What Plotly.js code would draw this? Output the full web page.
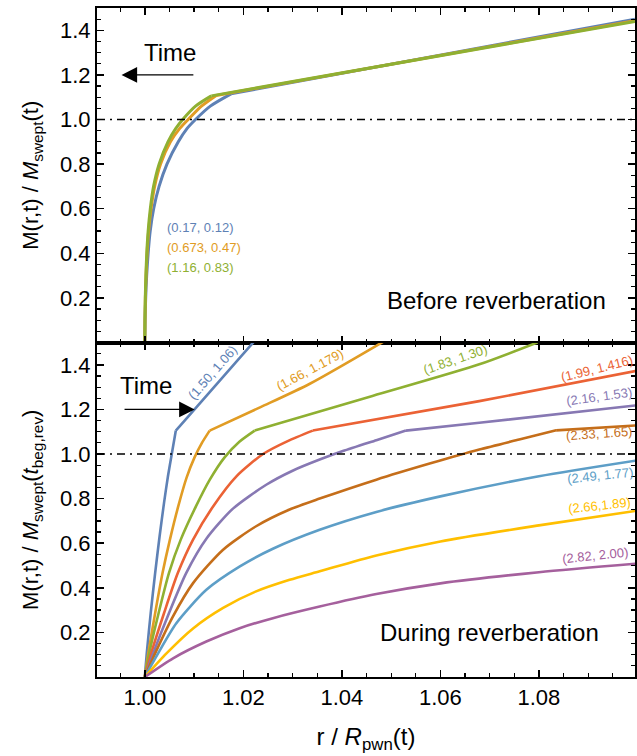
<!DOCTYPE html>
<html><head><meta charset="utf-8">
<script src="https://cdn.plot.ly/plotly-3.0.1.min.js"></script>
<style>html,body{margin:0;padding:0;background:#fff}</style>
</head><body><div id="chart" style="width:637px;height:756px"></div>
<script>
// ---------- data: top panel (before reverberation) ----------
const topBlueX   = [1.0, 1.00006, 1.00018, 1.00038, 1.00068, 1.0011, 1.0018, 1.0029, 1.0045, 1.0068, 1.0086, 1.0103, 1.0133, 1.0175, 1.0995];
const topBlueY   = [0, 0.1, 0.2, 0.3, 0.4, 0.5, 0.6, 0.7, 0.8, 0.9, 0.96, 1.0, 1.06, 1.115, 1.45];
const topOrangeX = [1.0, 1.00004, 1.00012, 1.00026, 1.00046, 1.00078, 1.00127, 1.002, 1.0032, 1.0052, 1.0071, 1.0088, 1.0115, 1.0145, 1.0995];
const topOrangeY = [0, 0.1, 0.2, 0.3, 0.4, 0.5, 0.6, 0.7, 0.8, 0.9, 0.96, 1.0, 1.06, 1.108, 1.443];
const topGreenX  = [1.0, 1.00003, 1.0001, 1.00022, 1.0004, 1.00068, 1.00112, 1.00178, 1.0029, 1.0047, 1.0063, 1.0077, 1.0103, 1.0135, 1.0995];
const topGreenY  = [0, 0.1, 0.2, 0.3, 0.4, 0.5, 0.6, 0.7, 0.8, 0.9, 0.96, 1.0, 1.06, 1.106, 1.44];
const topLabels  = ['(0.17, 0.12)', '(0.673, 0.47)', '(1.16, 0.83)'];

// ---------- data: bottom panel (during reverberation) ----------
const b1X = [1.0, 1.0004, 1.0012, 1.0021, 1.003, 1.0039, 1.0047, 1.0054, 1.0063, 1.0101, 1.0226];
const b1Y = [0, 0.106, 0.286, 0.466, 0.63, 0.78, 0.90, 0.99, 1.105, 1.2, 1.515];
const b2X = [1.0, 1.0007, 1.0021, 1.0036, 1.0051, 1.0068, 1.0085, 1.0101, 1.0116, 1.01317, 1.0235, 1.0335, 1.0493];
const b2Y = [0, 0.106, 0.286, 0.466, 0.616, 0.766, 0.895, 0.985, 1.05, 1.105, 1.21, 1.315, 1.515];
const b3X = [1.0, 1.0009, 1.0028, 1.0049, 1.0073, 1.0104, 1.0132, 1.0162, 1.0192, 1.0223, 1.0462, 1.0679, 1.0814];
const b3Y = [0, 0.106, 0.286, 0.466, 0.616, 0.766, 0.885, 0.985, 1.055, 1.105, 1.26, 1.402, 1.515];
const b4X = [1.0, 1.0013, 1.0039, 1.0067, 1.0098, 1.0139, 1.0186, 1.0240, 1.029, 1.0341, 1.0679, 1.0996];
const b4Y = [0, 0.106, 0.286, 0.466, 0.616, 0.766, 0.900, 1.0, 1.058, 1.105, 1.237, 1.372];
const b5X = [1.0, 1.0017, 1.0049, 1.0084, 1.0125, 1.0179, 1.02465, 1.0300, 1.0355, 1.0402, 1.047, 1.053, 1.0679, 1.0996];
const b5Y = [0, 0.106, 0.286, 0.466, 0.62, 0.755, 0.862, 0.925, 0.975, 1.013, 1.062, 1.105, 1.14, 1.218];
const b6X = [1.0, 1.0021, 1.0057, 1.0098, 1.0159, 1.0226, 1.0294, 1.0355, 1.047, 1.058, 1.0679, 1.076, 1.0835, 1.0996];
const b6Y = [0, 0.106, 0.271, 0.421, 0.571, 0.676, 0.751, 0.80, 0.885, 0.958, 1.02, 1.065, 1.106, 1.128];
const b7X = [1.0, 1.0027, 1.0064, 1.0125, 1.0193, 1.026, 1.0355, 1.047, 1.06, 1.08, 1.0996];
const b7Y = [0, 0.106, 0.241, 0.391, 0.496, 0.575, 0.66, 0.74, 0.81, 0.90, 0.97];
const b8X = [1.0, 1.0044, 1.0098, 1.0159, 1.0226, 1.0294, 1.0355, 1.047, 1.06, 1.08, 1.0996];
const b8Y = [0, 0.106, 0.218, 0.31, 0.384, 0.436, 0.474, 0.545, 0.608, 0.68, 0.745];
const b9X = [1.0, 1.00574, 1.01249, 1.01925, 1.026, 1.0355, 1.047, 1.06, 1.08, 1.0996];
const b9Y = [0, 0.084, 0.159, 0.219, 0.264, 0.316, 0.372, 0.42, 0.47, 0.508];
const bottomLabels = ['(1.50, 1.06)', '(1.66, 1.179)', '(1.83, 1.30)', '(1.99, 1.416)', '(2.16, 1.53)',
                      '(2.33, 1.65)', '(2.49, 1.77)', '(2.66,1.89)', '(2.82, 2.00)'];

// ---------- tick labels ----------
const yTickVals = [0.2, 0.4, 0.6, 0.8, 1.0, 1.2, 1.4];
const yTickText = ['0.2', '0.4', '0.6', '0.8', '1.0', '1.2', '1.4'];

// ---------- styling ----------
const COLORS = ['#5E81B5', '#E19C24', '#8FB032', '#EB6235', '#8778B3', '#C56E1A', '#5D9EC7', '#FFBF00', '#A5609D'];
const FONT = 'Liberation Sans, Arial, sans-serif';
const XR = [0.9903, 1.0995];

const traces = [];
function addPiece(x, y, color, xa, ya, w) {
  traces.push({x: x, y: y, xaxis: xa, yaxis: ya, type: 'scatter', mode: 'lines',
    line: {color: color, width: w, shape: 'spline', smoothing: 0.7}, hoverinfo: 'skip', showlegend: false});
}
// split each curve at its kink (shell edge, M ~ 1.1) so the kink stays sharp while the rest is smooth
function addCurve(x, y, color, xa, ya, w) {
  const k = y.findIndex(v => v >= 1.1);
  if (k > 0 && k < y.length - 1) {
    addPiece(x.slice(0, k + 1), y.slice(0, k + 1), color, xa, ya, w);
    addPiece(x.slice(k), y.slice(k), color, xa, ya, w);
  } else {
    addPiece(x, y, color, xa, ya, w);
  }
}
addCurve(topBlueX, topBlueY, COLORS[0], 'x', 'y', 3);
addCurve(topOrangeX, topOrangeY, COLORS[1], 'x', 'y', 3);
addCurve(topGreenX, topGreenY, COLORS[2], 'x', 'y', 3);
const bottomX = [b1X, b2X, b3X, b4X, b5X, b6X, b7X, b8X, b9X];
const bottomY = [b1Y, b2Y, b3Y, b4Y, b5Y, b6Y, b7Y, b8Y, b9Y];
for (let i = 0; i < 9; i++) addCurve(bottomX[i], bottomY[i], COLORS[i], 'x2', 'y2', 2.6);

const minorX = {ticks: 'inside', ticklen: 4, tickwidth: 1.2, tickcolor: 'black', dtick: 0.005, tick0: 1.0, showgrid: false};
const minorY = {ticks: 'inside', ticklen: 4, tickwidth: 1.2, tickcolor: 'black', dtick: 0.05, tick0: 0, showgrid: false};
const common = {showline: true, linecolor: 'black', linewidth: 2, mirror: 'allticks', ticks: 'inside',
  ticklen: 7, tickwidth: 1.5, tickcolor: 'black', showgrid: false, zeroline: false,
  tickfont: {family: FONT, size: 22, color: 'black'}};

const layout = {
  width: 637, height: 756,
  margin: {l: 97, r: 2, t: 8, b: 79},
  paper_bgcolor: 'white', plot_bgcolor: 'white', showlegend: false,
  font: {family: FONT, color: 'black'},
  xaxis: Object.assign({}, common, {anchor: 'y', range: XR, tick0: 1.0, dtick: 0.02, showticklabels: false, minor: minorX}),
  xaxis2: Object.assign({}, common, {anchor: 'y2', range: XR, tick0: 1.0, dtick: 0.02, tickformat: '.2f', minor: minorX,
    title: {text: 'r / <i>R</i><sub>pwn</sub>(t)', font: {family: FONT, size: 24, color: 'black'}, standoff: 19}}),
  yaxis: Object.assign({}, common, {anchor: 'x', domain: [0.5, 1], range: [0, 1.5], tickmode: 'array',
    tickvals: yTickVals, ticktext: yTickText, minor: minorY,
    title: {text: 'M(r,t) / <i>M</i><sub>swept</sub>(t)', font: {family: FONT, size: 22, color: 'black'}, standoff: 15}}),
  yaxis2: Object.assign({}, common, {anchor: 'x2', domain: [0, 0.5], range: [0, 1.5], tickmode: 'array',
    tickvals: yTickVals, ticktext: yTickText, minor: minorY,
    title: {text: 'M(r,t) / <i>M</i><sub>swept</sub>(<i>t</i><sub>beg,rev</sub>)', font: {family: FONT, size: 22, color: 'black'}, standoff: 15}}),
  shapes: [
    {type: 'line', xref: 'x domain', yref: 'y', x0: 0, x1: 1, y0: 1, y1: 1, line: {color: 'black', width: 1.6, dash: '8px,5px,2px,5px'}},
    {type: 'line', xref: 'x2 domain', yref: 'y2', x0: 0, x1: 1, y0: 1, y1: 1, line: {color: 'black', width: 1.6, dash: '8px,5px,2px,5px'}}
  ],
  annotations: []
};

const A = layout.annotations;
// top panel text
A.push({xref: 'x', yref: 'y', x: 1.00507, y: 1.30, text: 'Time', showarrow: false, font: {family: FONT, size: 24, color: 'black'}});
A.push({xref: 'x', yref: 'y', x: 0.99528, y: 1.2, ax: 1.01047, ay: 1.2, axref: 'x', ayref: 'y', text: ' ', showarrow: true,
  arrowhead: 2, arrowsize: 2.4, arrowwidth: 1.3, arrowcolor: 'black', standoff: 0});
A.push({xref: 'x', yref: 'y', x: 1.0713, y: 0.188, text: 'Before reverberation', showarrow: false, font: {family: FONT, size: 24, color: 'black'}});
const topLabelY = [0.517, 0.427, 0.338];
for (let i = 0; i < 3; i++) {
  A.push({xref: 'x', yref: 'y', x: 1.00405, y: topLabelY[i], xanchor: 'left', text: topLabels[i], showarrow: false,
    font: {family: FONT, size: 13, color: COLORS[i]}});
}
// bottom panel text
A.push({xref: 'x2', yref: 'y2', x: 1.0002, y: 1.308, text: 'Time', showarrow: false, font: {family: FONT, size: 24, color: 'black'}});
A.push({xref: 'x2', yref: 'y2', x: 1.01013, y: 1.2, ax: 0.99528, ay: 1.2, axref: 'x2', ayref: 'y2', text: ' ', showarrow: true,
  arrowhead: 2, arrowsize: 2.4, arrowwidth: 1.3, arrowcolor: 'black', standoff: 0});
A.push({xref: 'x2', yref: 'y2', x: 1.0699, y: 0.198, text: 'During reverberation', showarrow: false, font: {family: FONT, size: 24, color: 'black'}});
const labX = [1.0137, 1.0336, 1.0630, 1.0918, 1.0922, 1.0922, 1.0924, 1.0922, 1.0914];
const labY = [1.367, 1.378, 1.425, 1.384, 1.256, 1.090, 0.903, 0.769, 0.546];
const labA = [-49, -28, -19, -14, -8, -4, -6, -6, -6];
for (let i = 0; i < 9; i++) {
  A.push({xref: 'x2', yref: 'y2', x: labX[i], y: labY[i], text: bottomLabels[i], textangle: labA[i], showarrow: false,
    font: {family: FONT, size: 13, color: COLORS[i]}});
}

Plotly.newPlot('chart', traces, layout, {staticPlot: true, displayModeBar: false});
</script></body></html>
